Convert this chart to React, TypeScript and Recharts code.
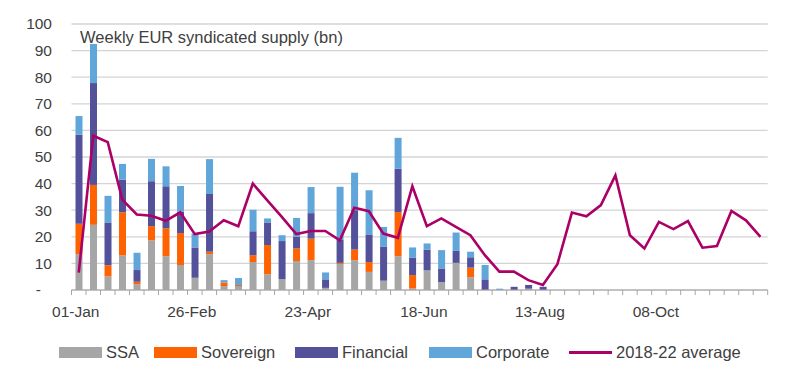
import React from 'react';
import { ComposedChart, Bar, Line, XAxis, YAxis, CartesianGrid } from 'recharts';

// Weekly EUR syndicated supply (bn), one entry per week
const ssa = [13.5, 24.5, 5.1, 13, 2.2, 18.7, 12.7, 9.4, 4.6, 13.5, 1.5, 1.5, 10.5, 5.9, 4.1, 10.9, 11.2, 0.8, 9.8, 11.2, 6.8, 3.5, 12.7, 0.6, 7.4, 3, 10.2, 4.8, 0, 0, 0, 0.5, 0];
const sovereign = [11.4, 15, 4.2, 16.2, 0.9, 5.3, 10.5, 12, 0, 0.9, 1.3, 0.4, 2.6, 11, 0, 4.7, 8.1, 0, 0.4, 4, 3.7, 0, 16.6, 5, 0, 0, 0, 3.6, 0, 0, 0, 0, 0];
const financial = [33.5, 38.3, 16.1, 12.3, 4.4, 16.9, 15.8, 8.1, 11.4, 21.7, 0, 0, 9, 8.5, 14.3, 4.4, 9.6, 3.2, 8.6, 14.8, 10.4, 12.7, 16.3, 6.6, 7.7, 5.1, 4.5, 3.9, 4, 0, 1.2, 1.4, 1.2];
const corporate = [7, 14.7, 10, 5.9, 6.5, 8.4, 7.5, 9.6, 5.2, 13.1, 0.9, 2.6, 8.1, 1.5, 2.2, 7.1, 9.8, 2.6, 20, 14.1, 16.6, 7.5, 11.6, 3.8, 2.4, 6.9, 6.9, 2.1, 5.4, 0.5, 0, 0, 0];
const average = [6.5, 58, 55.6, 34, 28.4, 27.9, 26, 29.2, 21, 22, 26.2, 24, 40, 33.7, 27.5, 21, 22.2, 22.2, 18.7, 30.9, 29.6, 21.2, 19.6, 39, 24, 26.9, 23.7, 20.6, 13.1, 6.9, 6.9, 3.7, 1.9, 9.7, 29.1, 27.7, 31.9, 43.1, 20.6, 15.6, 25.6, 22.9, 25.9, 15.9, 16.5, 29.7, 26.2, 20];

const yTicks = [0, 10, 20, 30, 40, 50, 60, 70, 80, 90, 100];
const months = ['Jan', 'Feb', 'Mar', 'Apr', 'May', 'Jun', 'Jul', 'Aug', 'Sep', 'Oct', 'Nov', 'Dec'];
const weeks = average.map((_, i) => {
  const d = new Date(Date.UTC(2023, 0, 1 + i * 7));
  return `${String(d.getUTCDate()).padStart(2, '0')}-${months[d.getUTCMonth()]}`;
});

const orNull = (v?: number) => (v ? v : null);

const data = weeks.map((week, i) => ({
  week,
  ssa: orNull(ssa[i]),
  sovereign: orNull(sovereign[i]),
  financial: orNull(financial[i]),
  corporate: orNull(corporate[i]),
  average: average[i],
}));

const COLORS = {
  ssa: '#a6a6a6',
  sovereign: '#ff6200',
  financial: '#525199',
  corporate: '#60a6da',
  average: '#ab0066',
};

const FONT = '"Liberation Sans", Arial, sans-serif';
const TEXT = '#404040';

const W = 800;
const H = 383;
const LEFT = 71.5;
const RIGHT = 32.3;
const bandWidth = (W - LEFT - RIGHT) / data.length;

const XTick = (props: any) => {
  const { x, y, index } = props;
  const left = x - bandWidth / 2;
  return (
    <g>
      <line x1={left} y1={y} x2={left} y2={y + 5} stroke="#a6a6a6" />
      {index === data.length - 1 && (
        <line x1={left + bandWidth} y1={y} x2={left + bandWidth} y2={y + 5} stroke="#a6a6a6" />
      )}
      {index % 8 === 0 && (
        <text x={x - 3} y={y + 27} textAnchor="middle" fill={TEXT} fontSize={15.5} fontFamily={FONT}>
          {props.payload.value}
        </text>
      )}
    </g>
  );
};

const YTick = (props: any) => {
  const { x, y, payload } = props;
  const isZero = payload.value === 0;
  return (
    <text x={isZero ? x - 30.5 : x - 19.5} y={y} dy="0.35em" textAnchor="end" fill={TEXT} fontSize={15.5} fontFamily={FONT}>
      {isZero ? '-' : payload.value}
    </text>
  );
};

const legendItems = [
  { name: 'SSA', color: COLORS.ssa, left: 59, line: false },
  { name: 'Sovereign', color: COLORS.sovereign, left: 154, line: false },
  { name: 'Financial', color: COLORS.financial, left: 295, line: false },
  { name: 'Corporate', color: COLORS.corporate, left: 429, line: false },
  { name: '2018-22 average', color: COLORS.average, left: 569, line: true },
];

export default function App() {
  return (
    <div style={{ position: 'absolute', left: 0, top: 0, width: W, height: H, background: '#fff', fontFamily: FONT }}>
      <ComposedChart width={W} height={H} data={data} margin={{ top: 24, right: RIGHT, left: 0, bottom: 63 }}>
        <CartesianGrid vertical={false} stroke="#d4d4d4" strokeWidth={1.3} />
        <XAxis
          dataKey="week"
          interval={0}
          tickSize={0}
          tickMargin={0}
          tickLine={false}
          axisLine={{ stroke: '#a6a6a6' }}
          tick={<XTick />}
          height={30}
        />
        <YAxis
          domain={[0, 100]}
          ticks={yTicks}
          width={LEFT}
          tickSize={0}
          tickMargin={0}
          axisLine={false}
          tickLine={false}
          tick={<YTick />}
        />
        <Bar dataKey="ssa" stackId="s" fill={COLORS.ssa} barSize={7} isAnimationActive={false} />
        <Bar dataKey="sovereign" stackId="s" fill={COLORS.sovereign} barSize={7} isAnimationActive={false} />
        <Bar dataKey="financial" stackId="s" fill={COLORS.financial} barSize={7} isAnimationActive={false} />
        <Bar dataKey="corporate" stackId="s" fill={COLORS.corporate} barSize={7} isAnimationActive={false} />
        <Line
          dataKey="average"
          type="linear"
          stroke={COLORS.average}
          strokeWidth={2.6}
          dot={false}
          activeDot={false}
          isAnimationActive={false}
        />
      </ComposedChart>
      <div
        style={{
          position: 'absolute',
          left: 80,
          top: 27,
          fontSize: 16.5,
          color: TEXT,
          lineHeight: '20px',
        }}
      >
        Weekly EUR syndicated supply (bn)
      </div>
      {legendItems.map(item => (
        <div
          key={item.name}
          style={{
            position: 'absolute',
            left: item.left,
            top: 342,
            height: 20,
            display: 'flex',
            alignItems: 'center',
            fontSize: 16.5,
            color: TEXT,
            whiteSpace: 'nowrap',
          }}
        >
          <span
            style={{
              display: 'inline-block',
              width: 43,
              height: item.line ? 3 : 11,
              background: item.color,
              marginRight: 4,
            }}
          />
          {item.name}
        </div>
      ))}
    </div>
  );
}
